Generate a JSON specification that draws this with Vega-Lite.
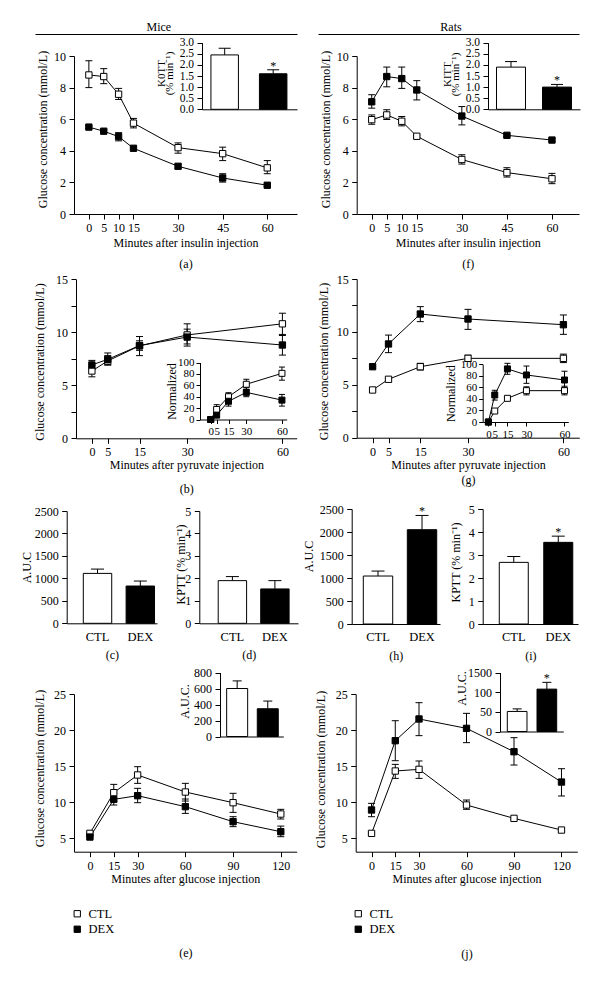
{
"$schema": "https://vega.github.io/schema/vega-lite/v6.json",
"width": 600, "height": 981, "padding": 0, "autosize": {"type": "none"},
"background": "white",
"datasets": {
"a": [
{"t":0,"grp":"CTL","mean":8.8,"lo":8.0,"hi":9.7},
{"t":5,"grp":"CTL","mean":8.7,"lo":8.25,"hi":9.2},
{"t":10,"grp":"CTL","mean":7.58,"lo":7.25,"hi":7.95},
{"t":15,"grp":"CTL","mean":5.75,"lo":5.45,"hi":6.05},
{"t":30,"grp":"CTL","mean":4.2,"lo":3.85,"hi":4.5},
{"t":45,"grp":"CTL","mean":3.82,"lo":3.38,"hi":4.23},
{"t":60,"grp":"CTL","mean":2.92,"lo":2.55,"hi":3.38},
{"t":0,"grp":"DEX","mean":5.5,"lo":5.42,"hi":5.58},
{"t":5,"grp":"DEX","mean":5.24,"lo":5.16,"hi":5.32},
{"t":10,"grp":"DEX","mean":4.9,"lo":4.63,"hi":5.15},
{"t":15,"grp":"DEX","mean":4.16,"lo":4.08,"hi":4.24},
{"t":30,"grp":"DEX","mean":3.02,"lo":2.9,"hi":3.14},
{"t":45,"grp":"DEX","mean":2.28,"lo":2.02,"hi":2.55},
{"t":60,"grp":"DEX","mean":1.82,"lo":1.75,"hi":1.89}
],
"a_ins": [{"grp":"CTL","mean":2.45,"hi":2.75,"sig":""},{"grp":"DEX","mean":1.6,"hi":1.78,"sig":"*"}],
"f": [
{"t":0,"grp":"CTL","mean":5.97,"lo":5.68,"hi":6.27},
{"t":5,"grp":"CTL","mean":6.27,"lo":5.98,"hi":6.6},
{"t":10,"grp":"CTL","mean":5.87,"lo":5.58,"hi":6.17},
{"t":15,"grp":"CTL","mean":4.92,"lo":4.85,"hi":4.99},
{"t":30,"grp":"CTL","mean":3.45,"lo":3.16,"hi":3.75},
{"t":45,"grp":"CTL","mean":2.62,"lo":2.34,"hi":2.93},
{"t":60,"grp":"CTL","mean":2.23,"lo":1.92,"hi":2.57},
{"t":0,"grp":"DEX","mean":7.1,"lo":6.7,"hi":7.55},
{"t":5,"grp":"DEX","mean":8.7,"lo":8.05,"hi":9.3},
{"t":10,"grp":"DEX","mean":8.57,"lo":7.95,"hi":9.3},
{"t":15,"grp":"DEX","mean":7.85,"lo":7.22,"hi":8.44},
{"t":30,"grp":"DEX","mean":6.2,"lo":5.64,"hi":6.8},
{"t":45,"grp":"DEX","mean":4.98,"lo":4.9,"hi":5.06},
{"t":60,"grp":"DEX","mean":4.68,"lo":4.6,"hi":4.76}
],
"f_ins": [{"grp":"CTL","mean":1.9,"hi":2.15,"sig":""},{"grp":"DEX","mean":1.0,"hi":1.12,"sig":"*"}],
"b": [
{"t":0,"grp":"CTL","mean":6.35,"lo":5.8,"hi":6.9},
{"t":5,"grp":"CTL","mean":7.3,"lo":6.9,"hi":7.8},
{"t":15,"grp":"CTL","mean":8.72,"lo":8.3,"hi":9.2},
{"t":30,"grp":"CTL","mean":9.75,"lo":8.7,"hi":10.8},
{"t":60,"grp":"CTL","mean":10.8,"lo":9.7,"hi":11.8},
{"t":0,"grp":"DEX","mean":6.92,"lo":6.5,"hi":7.35},
{"t":5,"grp":"DEX","mean":7.45,"lo":6.95,"hi":8.05},
{"t":15,"grp":"DEX","mean":8.75,"lo":7.8,"hi":9.6},
{"t":30,"grp":"DEX","mean":9.55,"lo":8.9,"hi":10.3},
{"t":60,"grp":"DEX","mean":8.8,"lo":7.85,"hi":9.8}
],
"b_ins": [
{"t":0,"grp":"CTL","mean":0,"lo":0,"hi":0},
{"t":5,"grp":"CTL","mean":17.6,"lo":10,"hi":26},
{"t":15,"grp":"CTL","mean":40,"lo":34,"hi":47},
{"t":30,"grp":"CTL","mean":61.8,"lo":53,"hi":70.6},
{"t":60,"grp":"CTL","mean":81,"lo":69,"hi":92},
{"t":0,"grp":"DEX","mean":0,"lo":0,"hi":0},
{"t":5,"grp":"DEX","mean":7.6,"lo":5,"hi":10},
{"t":15,"grp":"DEX","mean":32,"lo":23.5,"hi":43},
{"t":30,"grp":"DEX","mean":47.6,"lo":40,"hi":56},
{"t":60,"grp":"DEX","mean":34,"lo":23.5,"hi":44}
],
"g": [
{"t":0,"grp":"CTL","mean":4.51,"lo":4.4,"hi":4.6},
{"t":5,"grp":"CTL","mean":5.52,"lo":5.42,"hi":5.62},
{"t":15,"grp":"CTL","mean":6.71,"lo":6.4,"hi":7.03},
{"t":30,"grp":"CTL","mean":7.5,"lo":7.2,"hi":7.8},
{"t":60,"grp":"CTL","mean":7.5,"lo":7.1,"hi":7.9},
{"t":0,"grp":"DEX","mean":6.71,"lo":6.6,"hi":6.8},
{"t":5,"grp":"DEX","mean":8.86,"lo":8.04,"hi":9.7},
{"t":15,"grp":"DEX","mean":11.69,"lo":10.97,"hi":12.39},
{"t":30,"grp":"DEX","mean":11.22,"lo":10.24,"hi":12.13},
{"t":60,"grp":"DEX","mean":10.68,"lo":9.77,"hi":11.6}
],
"g_ins": [
{"t":0,"grp":"CTL","mean":0,"lo":0,"hi":0},
{"t":5,"grp":"CTL","mean":19,"lo":16,"hi":22},
{"t":15,"grp":"CTL","mean":41,"lo":38,"hi":44},
{"t":30,"grp":"CTL","mean":54.3,"lo":47,"hi":61},
{"t":60,"grp":"CTL","mean":54.3,"lo":47,"hi":62},
{"t":0,"grp":"DEX","mean":0,"lo":0,"hi":0},
{"t":5,"grp":"DEX","mean":46.8,"lo":38,"hi":55},
{"t":15,"grp":"DEX","mean":92,"lo":82.7,"hi":101.7},
{"t":30,"grp":"DEX","mean":81.5,"lo":67,"hi":97},
{"t":60,"grp":"DEX","mean":72.8,"lo":60,"hi":88}
],
"c": [{"grp":"CTL","mean":1111,"hi":1207,"sig":""},{"grp":"DEX","mean":830,"hi":941,"sig":""}],
"d": [{"grp":"CTL","mean":1.9,"hi":2.08,"sig":""},{"grp":"DEX","mean":1.53,"hi":1.9,"sig":""}],
"h": [{"grp":"CTL","mean":1043,"hi":1151,"sig":""},{"grp":"DEX","mean":2050,"hi":2360,"sig":"*"}],
"i": [{"grp":"CTL","mean":2.68,"hi":2.94,"sig":""},{"grp":"DEX","mean":3.55,"hi":3.82,"sig":"*"}],
"e": [
{"t":0,"grp":"CTL","mean":5.69,"lo":5.55,"hi":5.83},
{"t":15,"grp":"CTL","mean":11.33,"lo":10.17,"hi":12.48},
{"t":30,"grp":"CTL","mean":13.78,"lo":12.62,"hi":14.93},
{"t":60,"grp":"CTL","mean":11.42,"lo":10.17,"hi":12.62},
{"t":90,"grp":"CTL","mean":9.94,"lo":8.6,"hi":11.24},
{"t":120,"grp":"CTL","mean":8.37,"lo":7.68,"hi":9.02},
{"t":0,"grp":"DEX","mean":5.18,"lo":5.05,"hi":5.3},
{"t":15,"grp":"DEX","mean":10.4,"lo":9.62,"hi":11.24},
{"t":30,"grp":"DEX","mean":10.91,"lo":9.94,"hi":11.93},
{"t":60,"grp":"DEX","mean":9.39,"lo":8.46,"hi":10.45},
{"t":90,"grp":"DEX","mean":7.31,"lo":6.62,"hi":8.0},
{"t":120,"grp":"DEX","mean":5.92,"lo":5.23,"hi":6.7}
],
"e_ins": [{"grp":"CTL","mean":600,"hi":695,"sig":""},{"grp":"DEX","mean":347,"hi":443,"sig":""}],
"j": [
{"t":0,"grp":"CTL","mean":5.69,"lo":5.55,"hi":5.83},
{"t":15,"grp":"CTL","mean":14.33,"lo":13.31,"hi":15.25},
{"t":30,"grp":"CTL","mean":14.56,"lo":13.31,"hi":15.72},
{"t":60,"grp":"CTL","mean":9.62,"lo":9.02,"hi":10.31},
{"t":90,"grp":"CTL","mean":7.77,"lo":7.65,"hi":7.9},
{"t":120,"grp":"CTL","mean":6.15,"lo":6.0,"hi":6.3},
{"t":0,"grp":"DEX","mean":8.93,"lo":8.0,"hi":9.85},
{"t":15,"grp":"DEX","mean":18.53,"lo":15.76,"hi":21.3},
{"t":30,"grp":"DEX","mean":21.54,"lo":19.23,"hi":23.8},
{"t":60,"grp":"DEX","mean":20.24,"lo":18.26,"hi":22.32},
{"t":90,"grp":"DEX","mean":17.0,"lo":15.16,"hi":18.95},
{"t":120,"grp":"DEX","mean":12.8,"lo":10.87,"hi":14.65}
],
"j_ins": [{"grp":"CTL","mean":51,"hi":57.5,"sig":""},{"grp":"DEX","mean":107.7,"hi":125,"sig":"*"}]
},
"layer": [
{"data":{"values":[{"label":"Mice"}]},"mark":{"type":"point","opacity":0},
 "encoding":{"x":{"datum":0.5,"type":"quantitative","scale":{"domain":[0,1],"range":[35,297]},
  "axis":{"orient":"top","offset":-34,"ticks":false,"labels":false,"title":"Mice","titleX":158.3,"titlePadding":1}}}},
{"data":{"values":[{"label":"Rats"}]},"mark":{"type":"point","opacity":0},
 "encoding":{"x":{"datum":0.5,"type":"quantitative","scale":{"domain":[0,1],"range":[318,579]},
  "axis":{"orient":"top","offset":-34,"ticks":false,"labels":false,"title":"Rats","titleX":450.5,"titlePadding":1}}}},

{"data":{"name":"a"},
 "encoding":{
  "x":{"field":"t","type":"quantitative","scale":{"domain":[-5,70],"range":[74,297],"nice":false,"zero":false},
   "axis":{"orient":"bottom","offset":-767,"values":[0,5,10,15,30,45,60],"title":["Minutes after insulin injection","(a)"],"titleLineHeight":21,"titlePadding":4}},
  "y":{"field":"mean","type":"quantitative","scale":{"domain":[0,10],"range":[214,56],"nice":false,"zero":false},
   "axis":{"orient":"left","offset":-74,"values":[0,2,4,6,8,10],"title":"Glucose concentration (mmol/L)","titleX":-32,"titleY":129,"titleBaseline":"middle"}}},
 "layer":[
  {"mark":{"type":"rule","color":"black","strokeWidth":1},"encoding":{"y":{"field":"lo","type":"quantitative"},"y2":{"field":"hi"}}},
  {"mark":{"type":"tick","orient":"horizontal","size":7,"thickness":1,"color":"black","opacity":1},"encoding":{"y":{"field":"lo","type":"quantitative"}}},
  {"mark":{"type":"tick","orient":"horizontal","size":7,"thickness":1,"color":"black","opacity":1},"encoding":{"y":{"field":"hi","type":"quantitative"}}},
  {"mark":{"type":"line","color":"black","strokeWidth":1},"encoding":{"detail":{"field":"grp","type":"nominal"}}},
  {"mark":{"type":"point","shape":"square","filled":true,"size":40,"stroke":"black","strokeWidth":1,"opacity":1},"encoding":{"fill":{"field":"grp","type":"nominal","scale":{"domain":["CTL","DEX"],"range":["white","black"]},"legend":null}}}
 ]},

{"data":{"name":"a_ins"},
 "encoding":{
  "x":{"field":"grp","type":"nominal","scale":{"type":"band","domain":["CTL","DEX"],"range":[202,297],"paddingInner":0.433,"paddingOuter":0.196,"align":0.47},
   "axis":{"orient":"bottom","offset":-871.7,"ticks":false,"labels":false,"title":null}},
  "y":{"field":"mean","type":"quantitative","scale":{"domain":[0,3],"range":[109.3,42.7],"nice":false},
   "axis":{"orient":"left","offset":-202,"values":[0,0.5,1,1.5,2,2.5,3],"format":".1f","labelFontSize":11.5,"title":["K0TT","(% min⁻¹)"],"titleX":-41,"titleY":73,"titleBaseline":"middle","titleLineHeight":8.5,"titleFontSize":11}}},
 "layer":[
  {"mark":{"type":"rule","color":"black","strokeWidth":1},"encoding":{"y2":{"field":"hi"}}},
  {"mark":{"type":"tick","orient":"horizontal","size":12,"thickness":1,"color":"black","opacity":1},"encoding":{"y":{"field":"hi","type":"quantitative"}}},
  {"mark":{"type":"bar","stroke":"black","strokeWidth":1},"encoding":{"fill":{"field":"grp","type":"nominal","scale":{"domain":["CTL","DEX"],"range":["white","black"]},"legend":null}}},
  {"mark":{"type":"text","font":"Liberation Serif","fontSize":12,"baseline":"alphabetic","color":"black"},"encoding":{"y":{"field":"hi","type":"quantitative"},"text":{"field":"sig","type":"nominal"}}}
 ]},

{"data":{"name":"f"},
 "encoding":{
  "x":{"field":"t","type":"quantitative","scale":{"domain":[-5,69],"range":[356.7,579],"nice":false,"zero":false},
   "axis":{"orient":"bottom","offset":-767,"values":[0,5,10,15,30,45,60],"title":["Minutes after insulin injection","(f)"],"titleLineHeight":21,"titlePadding":4}},
  "y":{"field":"mean","type":"quantitative","scale":{"domain":[0,10],"range":[214,56],"nice":false,"zero":false},
   "axis":{"orient":"left","offset":-356.7,"values":[0,2,4,6,8,10],"title":"Glucose concentration (mmol/L)","titleX":-31.7,"titleY":129,"titleBaseline":"middle"}}},
 "layer":[
  {"mark":{"type":"rule","color":"black","strokeWidth":1},"encoding":{"y":{"field":"lo","type":"quantitative"},"y2":{"field":"hi"}}},
  {"mark":{"type":"tick","orient":"horizontal","size":7,"thickness":1,"color":"black","opacity":1},"encoding":{"y":{"field":"lo","type":"quantitative"}}},
  {"mark":{"type":"tick","orient":"horizontal","size":7,"thickness":1,"color":"black","opacity":1},"encoding":{"y":{"field":"hi","type":"quantitative"}}},
  {"mark":{"type":"line","color":"black","strokeWidth":1},"encoding":{"detail":{"field":"grp","type":"nominal"}}},
  {"mark":{"type":"point","shape":"square","filled":true,"size":40,"stroke":"black","strokeWidth":1,"opacity":1},"encoding":{"fill":{"field":"grp","type":"nominal","scale":{"domain":["CTL","DEX"],"range":["white","black"]},"legend":null}}}
 ]},

{"data":{"name":"f_ins"},
 "encoding":{
  "x":{"field":"grp","type":"nominal","scale":{"type":"band","domain":["CTL","DEX"],"range":[488,580],"paddingInner":0.37,"paddingOuter":0.185,"align":0.5},
   "axis":{"orient":"bottom","offset":-871.7,"ticks":false,"labels":false,"title":null}},
  "y":{"field":"mean","type":"quantitative","scale":{"domain":[0,3],"range":[109.3,42.7],"nice":false},
   "axis":{"orient":"left","offset":-488,"values":[0,0.5,1,1.5,2,2.5,3],"format":".1f","labelFontSize":11.5,"title":["KITT","(% min⁻¹)"],"titleX":-41,"titleY":74,"titleBaseline":"middle","titleLineHeight":8.5,"titleFontSize":11}}},
 "layer":[
  {"mark":{"type":"rule","color":"black","strokeWidth":1},"encoding":{"y2":{"field":"hi"}}},
  {"mark":{"type":"tick","orient":"horizontal","size":12,"thickness":1,"color":"black","opacity":1},"encoding":{"y":{"field":"hi","type":"quantitative"}}},
  {"mark":{"type":"bar","stroke":"black","strokeWidth":1},"encoding":{"fill":{"field":"grp","type":"nominal","scale":{"domain":["CTL","DEX"],"range":["white","black"]},"legend":null}}},
  {"mark":{"type":"text","font":"Liberation Serif","fontSize":12,"baseline":"alphabetic","color":"black"},"encoding":{"y":{"field":"hi","type":"quantitative"},"text":{"field":"sig","type":"nominal"}}}
 ]},

{"data":{"name":"b"},
 "encoding":{
  "x":{"field":"t","type":"quantitative","scale":{"domain":[-5,64.5],"range":[76,296.7],"nice":false,"zero":false},
   "axis":{"orient":"bottom","offset":-542.7,"values":[0,5,15,30,60],"title":["Minutes after pyruvate injection","(b)"],"titleLineHeight":23.5}},
  "y":{"field":"mean","type":"quantitative","scale":{"domain":[0,15],"range":[438.3,279.3],"nice":false,"zero":false},
   "axis":{"orient":"left","offset":-76,"values":[0,2.5,5,7.5,10,12.5,15],"labelExpr":"datum.value % 5 === 0 ? datum.label : ''","title":"Glucose concentration (mmol/L)","titleX":-36.7,"titleY":361.5,"titleBaseline":"middle"}}},
 "layer":[
  {"mark":{"type":"rule","color":"black","strokeWidth":1},"encoding":{"y":{"field":"lo","type":"quantitative"},"y2":{"field":"hi"}}},
  {"mark":{"type":"tick","orient":"horizontal","size":7,"thickness":1,"color":"black","opacity":1},"encoding":{"y":{"field":"lo","type":"quantitative"}}},
  {"mark":{"type":"tick","orient":"horizontal","size":7,"thickness":1,"color":"black","opacity":1},"encoding":{"y":{"field":"hi","type":"quantitative"}}},
  {"mark":{"type":"line","color":"black","strokeWidth":1},"encoding":{"detail":{"field":"grp","type":"nominal"}}},
  {"mark":{"type":"point","shape":"square","filled":true,"size":40,"stroke":"black","strokeWidth":1,"opacity":1},"encoding":{"fill":{"field":"grp","type":"nominal","scale":{"domain":["CTL","DEX"],"range":["white","black"]},"legend":null}}}
 ]},

{"data":{"name":"b_ins"},
 "encoding":{
  "x":{"field":"t","type":"quantitative","scale":{"domain":[-9,64],"range":[200,286.7],"nice":false,"zero":false},
   "axis":{"orient":"bottom","offset":-561.5,"values":[0,5,15,30,60],"title":null,"labelFontSize":11,"tickSize":4,"labelPadding":2}},
  "y":{"field":"mean","type":"quantitative","scale":{"domain":[0,100],"range":[419.5,362.5],"nice":false,"zero":false},
   "axis":{"orient":"left","offset":-200,"values":[0,20,40,60,80,100],"title":"Normalized","titleX":-28.3,"titleBaseline":"middle","labelFontSize":11,"tickSize":4,"labelPadding":2}}},
 "layer":[
  {"mark":{"type":"rule","color":"black","strokeWidth":1},"encoding":{"y":{"field":"lo","type":"quantitative"},"y2":{"field":"hi"}}},
  {"mark":{"type":"tick","orient":"horizontal","size":6,"thickness":1,"color":"black","opacity":1},"encoding":{"y":{"field":"lo","type":"quantitative"}}},
  {"mark":{"type":"tick","orient":"horizontal","size":6,"thickness":1,"color":"black","opacity":1},"encoding":{"y":{"field":"hi","type":"quantitative"}}},
  {"mark":{"type":"line","color":"black","strokeWidth":1},"encoding":{"detail":{"field":"grp","type":"nominal"}}},
  {"mark":{"type":"point","shape":"square","filled":true,"size":36,"stroke":"black","strokeWidth":1,"opacity":1},"encoding":{"fill":{"field":"grp","type":"nominal","scale":{"domain":["CTL","DEX"],"range":["white","black"]},"legend":null}}}
 ]},

{"data":{"name":"g"},
 "encoding":{
  "x":{"field":"t","type":"quantitative","scale":{"domain":[-5,65],"range":[356.7,579.3],"nice":false,"zero":false},
   "axis":{"orient":"bottom","offset":-543.3,"values":[0,5,15,30,60],"title":["Minutes after pyruvate injection","(g)"],"titleLineHeight":15.5}},
  "y":{"field":"mean","type":"quantitative","scale":{"domain":[0,15],"range":[437.7,279],"nice":false,"zero":false},
   "axis":{"orient":"left","offset":-356.7,"values":[0,2.5,5,7.5,10,12.5,15],"labelExpr":"datum.value % 5 === 0 ? datum.label : ''","title":"Glucose concentration (mmol/L)","titleX":-33.4,"titleY":361,"titleBaseline":"middle"}}},
 "layer":[
  {"mark":{"type":"rule","color":"black","strokeWidth":1},"encoding":{"y":{"field":"lo","type":"quantitative"},"y2":{"field":"hi"}}},
  {"mark":{"type":"tick","orient":"horizontal","size":7,"thickness":1,"color":"black","opacity":1},"encoding":{"y":{"field":"lo","type":"quantitative"}}},
  {"mark":{"type":"tick","orient":"horizontal","size":7,"thickness":1,"color":"black","opacity":1},"encoding":{"y":{"field":"hi","type":"quantitative"}}},
  {"mark":{"type":"line","color":"black","strokeWidth":1},"encoding":{"detail":{"field":"grp","type":"nominal"}}},
  {"mark":{"type":"point","shape":"square","filled":true,"size":40,"stroke":"black","strokeWidth":1,"opacity":1},"encoding":{"fill":{"field":"grp","type":"nominal","scale":{"domain":["CTL","DEX"],"range":["white","black"]},"legend":null}}}
 ]},

{"data":{"name":"g_ins"},
 "encoding":{
  "x":{"field":"t","type":"quantitative","scale":{"domain":[-4.5,63],"range":[482.7,568.3],"nice":false,"zero":false},
   "axis":{"orient":"bottom","offset":-559,"values":[0,5,15,30,60],"title":null,"labelFontSize":11,"tickSize":4,"labelPadding":2}},
  "y":{"field":"mean","type":"quantitative","scale":{"domain":[0,100],"range":[422,364.3],"nice":false,"zero":false},
   "axis":{"orient":"left","offset":-482.7,"values":[0,20,40,60,80,100],"title":"Normalized","titleX":-32.7,"titleBaseline":"middle","labelFontSize":11,"tickSize":4,"labelPadding":2}}},
 "layer":[
  {"mark":{"type":"rule","color":"black","strokeWidth":1},"encoding":{"y":{"field":"lo","type":"quantitative"},"y2":{"field":"hi"}}},
  {"mark":{"type":"tick","orient":"horizontal","size":6,"thickness":1,"color":"black","opacity":1},"encoding":{"y":{"field":"lo","type":"quantitative"}}},
  {"mark":{"type":"tick","orient":"horizontal","size":6,"thickness":1,"color":"black","opacity":1},"encoding":{"y":{"field":"hi","type":"quantitative"}}},
  {"mark":{"type":"line","color":"black","strokeWidth":1},"encoding":{"detail":{"field":"grp","type":"nominal"}}},
  {"mark":{"type":"point","shape":"square","filled":true,"size":36,"stroke":"black","strokeWidth":1,"opacity":1},"encoding":{"fill":{"field":"grp","type":"nominal","scale":{"domain":["CTL","DEX"],"range":["white","black"]},"legend":null}}}
 ]},

{"data":{"name":"c"},
 "encoding":{
  "x":{"field":"grp","type":"nominal","scale":{"type":"band","domain":["CTL","DEX"],"range":[66.7,157],"paddingInner":0.336,"paddingOuter":0.223,"align":0.87},
   "axis":{"orient":"bottom","offset":-357.7,"ticks":false,"tickSize":0,"labelPadding":6.8,"labelFontSize":12.5,"labelAngle":0,"title":"(c)","titlePadding":7}},
  "y":{"field":"mean","type":"quantitative","scale":{"domain":[0,2500],"range":[623.3,511],"nice":false},
   "axis":{"orient":"left","offset":-66.7,"values":[0,500,1000,1500,2000,2500],"format":"d","title":"A.U.C","titleX":-40,"titleBaseline":"middle"}}},
 "layer":[
  {"mark":{"type":"rule","color":"black","strokeWidth":1},"encoding":{"y2":{"field":"hi"}}},
  {"mark":{"type":"tick","orient":"horizontal","size":13,"thickness":1,"color":"black","opacity":1},"encoding":{"y":{"field":"hi","type":"quantitative"}}},
  {"mark":{"type":"bar","stroke":"black","strokeWidth":1},"encoding":{"fill":{"field":"grp","type":"nominal","scale":{"domain":["CTL","DEX"],"range":["white","black"]},"legend":null}}}
 ]},

{"data":{"name":"d"},
 "encoding":{
  "x":{"field":"grp","type":"nominal","scale":{"type":"band","domain":["CTL","DEX"],"range":[199.3,298],"paddingInner":0.332,"paddingOuter":0.327,"align":0.68},
   "axis":{"orient":"bottom","offset":-357.7,"ticks":false,"tickSize":0,"labelPadding":6.8,"labelFontSize":12.5,"labelAngle":0,"title":"(d)","titlePadding":7}},
  "y":{"field":"mean","type":"quantitative","scale":{"domain":[0,5],"range":[623.3,511],"nice":false},
   "axis":{"orient":"left","offset":-199.3,"values":[0,1,2,3,4,5],"title":"KPTT (% min⁻¹)","titleX":-19.3,"titleY":564,"titleBaseline":"middle"}}},
 "layer":[
  {"mark":{"type":"rule","color":"black","strokeWidth":1},"encoding":{"y2":{"field":"hi"}}},
  {"mark":{"type":"tick","orient":"horizontal","size":13,"thickness":1,"color":"black","opacity":1},"encoding":{"y":{"field":"hi","type":"quantitative"}}},
  {"mark":{"type":"bar","stroke":"black","strokeWidth":1},"encoding":{"fill":{"field":"grp","type":"nominal","scale":{"domain":["CTL","DEX"],"range":["white","black"]},"legend":null}}}
 ]},

{"data":{"name":"h"},
 "encoding":{
  "x":{"field":"grp","type":"nominal","scale":{"type":"band","domain":["CTL","DEX"],"range":[351.7,440],"paddingInner":0.332,"paddingOuter":0.169,"align":0.78},
   "axis":{"orient":"bottom","offset":-357,"ticks":false,"tickSize":0,"labelPadding":6.8,"labelFontSize":12.5,"labelAngle":0,"title":"(h)","titlePadding":7}},
  "y":{"field":"mean","type":"quantitative","scale":{"domain":[0,2500],"range":[624,509],"nice":false},
   "axis":{"orient":"left","offset":-351.7,"values":[0,500,1000,1500,2000,2500],"format":"d","title":"A.U.C","titleX":-43.4,"titleY":556,"titleBaseline":"middle"}}},
 "layer":[
  {"mark":{"type":"rule","color":"black","strokeWidth":1},"encoding":{"y2":{"field":"hi"}}},
  {"mark":{"type":"tick","orient":"horizontal","size":13,"thickness":1,"color":"black","opacity":1},"encoding":{"y":{"field":"hi","type":"quantitative"}}},
  {"mark":{"type":"bar","stroke":"black","strokeWidth":1},"encoding":{"fill":{"field":"grp","type":"nominal","scale":{"domain":["CTL","DEX"],"range":["white","black"]},"legend":null}}},
  {"mark":{"type":"text","font":"Liberation Serif","fontSize":12,"baseline":"alphabetic","color":"black"},"encoding":{"y":{"field":"hi","type":"quantitative"},"text":{"field":"sig","type":"nominal"}}}
 ]},

{"data":{"name":"i"},
 "encoding":{
  "x":{"field":"grp","type":"nominal","scale":{"type":"band","domain":["CTL","DEX"],"range":[482.7,578],"paddingInner":0.348,"paddingOuter":0.245,"align":0.76},
   "axis":{"orient":"bottom","offset":-357,"ticks":false,"tickSize":0,"labelPadding":6.8,"labelFontSize":12.5,"labelAngle":0,"title":"(i)","titlePadding":7}},
  "y":{"field":"mean","type":"quantitative","scale":{"domain":[0,5],"range":[624,509],"nice":false},
   "axis":{"orient":"left","offset":-482.7,"values":[0,1,2,3,4,5],"title":"KPTT (% min⁻¹)","titleX":-27.7,"titleY":562,"titleBaseline":"middle"}}},
 "layer":[
  {"mark":{"type":"rule","color":"black","strokeWidth":1},"encoding":{"y2":{"field":"hi"}}},
  {"mark":{"type":"tick","orient":"horizontal","size":13,"thickness":1,"color":"black","opacity":1},"encoding":{"y":{"field":"hi","type":"quantitative"}}},
  {"mark":{"type":"bar","stroke":"black","strokeWidth":1},"encoding":{"fill":{"field":"grp","type":"nominal","scale":{"domain":["CTL","DEX"],"range":["white","black"]},"legend":null}}},
  {"mark":{"type":"text","font":"Liberation Serif","fontSize":12,"baseline":"alphabetic","color":"black"},"encoding":{"y":{"field":"hi","type":"quantitative"},"text":{"field":"sig","type":"nominal"}}}
 ]},

{"data":{"name":"e"},
 "encoding":{
  "x":{"field":"t","type":"quantitative","scale":{"domain":[-10,130],"range":[74,296.7],"nice":false,"zero":false},
   "axis":{"orient":"bottom","offset":-129.3,"values":[0,15,30,60,90,120],"title":["Minutes after glucose injection","(e)"],"titleLineHeight":74}},
  "y":{"field":"mean","type":"quantitative","scale":{"domain":[3.15,25],"range":[851.7,694],"nice":false,"zero":false},
   "axis":{"orient":"left","offset":-74,"values":[5,10,15,20,25],"title":"Glucose concentration (mmol/L)","titleX":-34.7,"titleY":768,"titleBaseline":"middle"}}},
 "layer":[
  {"mark":{"type":"rule","color":"black","strokeWidth":1},"encoding":{"y":{"field":"lo","type":"quantitative"},"y2":{"field":"hi"}}},
  {"mark":{"type":"tick","orient":"horizontal","size":7,"thickness":1,"color":"black","opacity":1},"encoding":{"y":{"field":"lo","type":"quantitative"}}},
  {"mark":{"type":"tick","orient":"horizontal","size":7,"thickness":1,"color":"black","opacity":1},"encoding":{"y":{"field":"hi","type":"quantitative"}}},
  {"mark":{"type":"line","color":"black","strokeWidth":1},"encoding":{"detail":{"field":"grp","type":"nominal"}}},
  {"mark":{"type":"point","shape":"square","filled":true,"size":40,"stroke":"black","strokeWidth":1,"opacity":1},"encoding":{"fill":{"field":"grp","type":"nominal","scale":{"domain":["CTL","DEX"],"range":["white","black"]},
   "legend":{"orient":"none","legendX":71,"legendY":907.5,"title":null,"direction":"vertical","labelOffset":5}}}}
 ]},

{"data":{"name":"e_ins"},
 "encoding":{
  "x":{"field":"grp","type":"nominal","scale":{"type":"band","domain":["CTL","DEX"],"range":[220,283.3],"paddingInner":0.314,"paddingOuter":0.191,"align":0.57},
   "axis":{"orient":"bottom","offset":-244.5,"ticks":false,"labels":false,"title":null}},
  "y":{"field":"mean","type":"quantitative","scale":{"domain":[0,800],"range":[736.5,672.5],"nice":false},
   "axis":{"orient":"left","offset":-220,"values":[0,200,400,600,800],"title":"A.U.C.","titleX":-35.7,"titleY":701,"titleBaseline":"middle"}}},
 "layer":[
  {"mark":{"type":"rule","color":"black","strokeWidth":1},"encoding":{"y2":{"field":"hi"}}},
  {"mark":{"type":"tick","orient":"horizontal","size":9,"thickness":1,"color":"black","opacity":1},"encoding":{"y":{"field":"hi","type":"quantitative"}}},
  {"mark":{"type":"bar","stroke":"black","strokeWidth":1},"encoding":{"fill":{"field":"grp","type":"nominal","scale":{"domain":["CTL","DEX"],"range":["white","black"]},"legend":null}}}
 ]},

{"data":{"name":"j"},
 "encoding":{
  "x":{"field":"t","type":"quantitative","scale":{"domain":[-10,130],"range":[355.7,577.3],"nice":false,"zero":false},
   "axis":{"orient":"bottom","offset":-129.3,"values":[0,15,30,60,90,120],"title":["Minutes after glucose injection","(j)"],"titleLineHeight":75.5}},
  "y":{"field":"mean","type":"quantitative","scale":{"domain":[3.15,25],"range":[851.7,694],"nice":false,"zero":false},
   "axis":{"orient":"left","offset":-355.7,"values":[5,10,15,20,25],"title":"Glucose concentration (mmol/L)","titleX":-35.7,"titleY":769,"titleBaseline":"middle"}}},
 "layer":[
  {"mark":{"type":"rule","color":"black","strokeWidth":1},"encoding":{"y":{"field":"lo","type":"quantitative"},"y2":{"field":"hi"}}},
  {"mark":{"type":"tick","orient":"horizontal","size":7,"thickness":1,"color":"black","opacity":1},"encoding":{"y":{"field":"lo","type":"quantitative"}}},
  {"mark":{"type":"tick","orient":"horizontal","size":7,"thickness":1,"color":"black","opacity":1},"encoding":{"y":{"field":"hi","type":"quantitative"}}},
  {"mark":{"type":"line","color":"black","strokeWidth":1},"encoding":{"detail":{"field":"grp","type":"nominal"}}},
  {"mark":{"type":"point","shape":"square","filled":true,"size":40,"stroke":"black","strokeWidth":1,"opacity":1},"encoding":{"fill":{"field":"grp","type":"nominal","scale":{"domain":["CTL","DEX"],"range":["white","black"]},
   "legend":{"orient":"none","legendX":352,"legendY":907.5,"title":null,"direction":"vertical","labelOffset":5}}}}
 ]},

{"data":{"name":"j_ins"},
 "encoding":{
  "x":{"field":"grp","type":"nominal","scale":{"type":"band","domain":["CTL","DEX"],"range":[500,563.3],"paddingInner":0.337,"paddingOuter":0.234,"align":0.525},
   "axis":{"orient":"bottom","offset":-249.5,"ticks":false,"labels":false,"title":null}},
  "y":{"field":"mean","type":"quantitative","scale":{"domain":[0,150],"range":[731.5,672.5],"nice":false},
   "axis":{"orient":"left","offset":-500,"values":[0,50,100,150],"labelExpr":"datum.value === 150 ? '1500' : datum.label","title":"A.U.C.","titleX":-38.3,"titleY":688,"titleBaseline":"middle"}}},
 "layer":[
  {"mark":{"type":"rule","color":"black","strokeWidth":1},"encoding":{"y2":{"field":"hi"}}},
  {"mark":{"type":"tick","orient":"horizontal","size":9,"thickness":1,"color":"black","opacity":1},"encoding":{"y":{"field":"hi","type":"quantitative"}}},
  {"mark":{"type":"bar","stroke":"black","strokeWidth":1},"encoding":{"fill":{"field":"grp","type":"nominal","scale":{"domain":["CTL","DEX"],"range":["white","black"]},"legend":null}}},
  {"mark":{"type":"text","font":"Liberation Serif","fontSize":12,"baseline":"alphabetic","color":"black"},"encoding":{"y":{"field":"hi","type":"quantitative"},"text":{"field":"sig","type":"nominal"}}}
 ]}
],
"resolve": {"scale": {"x": "independent", "y": "independent", "fill": "independent"}, "axis": {"x": "independent", "y": "independent"}, "legend": {"fill": "independent"}},
"config": {
 "font": "Liberation Serif",
 "view": {"stroke": null},
 "axis": {"grid": false, "domainColor": "black", "domainWidth": 1, "tickColor": "black", "tickWidth": 1, "tickSize": 5, "labelColor": "black", "titleColor": "black", "labelFont": "Liberation Serif", "titleFont": "Liberation Serif", "labelFontSize": 12, "titleFontSize": 12, "titleFontWeight": "normal", "labelPadding": 3.5, "titlePadding": 2, "labelFlush": false, "labelOverlap": false},
 "legend": {"labelFont": "Liberation Serif", "labelFontSize": 12.5, "labelColor": "black", "symbolType": "square", "symbolSize": 40, "symbolStrokeColor": "black", "symbolStrokeWidth": 1, "rowPadding": 2.5, "padding": 0, "labelOffset": 7}
}
}
